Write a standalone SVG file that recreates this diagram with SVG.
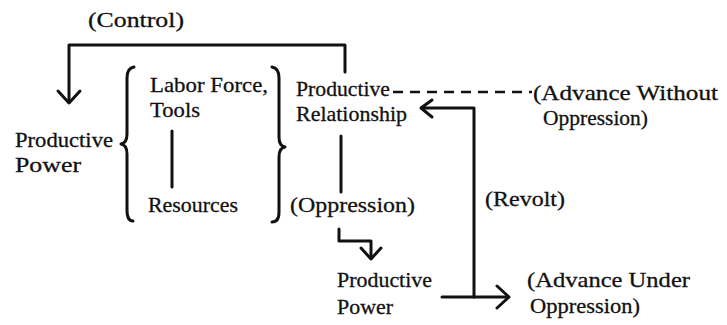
<svg xmlns="http://www.w3.org/2000/svg" width="727" height="325" viewBox="0 0 727 325">
  <style>
    .t { font-family: "Liberation Serif", "DejaVu Serif", serif; font-size: 22px; fill: #111; stroke: #111; stroke-width: 0.3; }
    .ln { fill: none; stroke: #111; stroke-width: 3; stroke-linecap: round; stroke-linejoin: round; }
    .dash { fill: none; stroke: #111; stroke-width: 2.5; stroke-dasharray: 10 7; }
  </style>
  <rect width="727" height="325" fill="#fff"/>

  <g id="connectors">
    <!-- Control -->
    <path class="ln" d="M345,72 V45 H69 V102"/>
    <path class="ln" d="M58,91 L69,103 L80,91"/>
    <!-- braces -->
    <path class="ln" d="M134,67 Q127,68 127,78 L127,134 Q127,143 121,144 Q127,145 127,154 L127,210 Q127,221 133,221"/>
    <path class="ln" d="M272,67 Q279,68 279,78 L279,137 Q279,146 285,147 Q279,148 279,157 L279,212 Q279,222 272,222"/>
    <!-- tools to resources -->
    <path class="ln" d="M172,131 V187"/>
    <!-- relationship down -->
    <path class="ln" d="M341,136 V192"/>
    <!-- dashed advance without oppression -->
    <path class="dash" d="M393,92 H532"/>
    <!-- revolt -->
    <path class="ln" d="M474,297 V108 H423"/>
    <path class="ln" d="M432,100 L421,108 L432,117"/>
    <!-- bottom arrow -->
    <path class="ln" d="M442,297 H508"/>
    <path class="ln" d="M497,286 L509,297 L497,308"/>
    <!-- oppression to productive power -->
    <path class="ln" d="M339,229 V241 H371 V258"/>
    <path class="ln" d="M361,248 L371,259 L381,248"/>
  </g>

  <g id="control"><text class="t" x="88" y="27" textLength="96" lengthAdjust="spacingAndGlyphs">(Control)</text></g>
  <g id="productive-power-left">
    <text class="t" x="15" y="147" textLength="98" lengthAdjust="spacingAndGlyphs">Productive</text>
    <text class="t" x="15" y="172" textLength="66" lengthAdjust="spacingAndGlyphs">Power</text>
  </g>
  <g id="labor-force">
    <text class="t" x="150" y="92" textLength="118" lengthAdjust="spacingAndGlyphs">Labor Force,</text>
    <text class="t" x="150" y="117" textLength="50" lengthAdjust="spacingAndGlyphs">Tools</text>
  </g>
  <g id="resources"><text class="t" x="148" y="212" textLength="90" lengthAdjust="spacingAndGlyphs">Resources</text></g>
  <g id="productive-relationship">
    <text class="t" x="296" y="96" textLength="94" lengthAdjust="spacingAndGlyphs">Productive</text>
    <text class="t" x="296" y="121" textLength="111" lengthAdjust="spacingAndGlyphs">Relationship</text>
  </g>
  <g id="advance-without">
    <text class="t" x="533" y="100" textLength="185" lengthAdjust="spacingAndGlyphs">(Advance Without</text>
    <text class="t" x="543" y="125" textLength="105" lengthAdjust="spacingAndGlyphs">Oppression)</text>
  </g>
  <g id="oppression"><text class="t" x="290" y="212" textLength="125" lengthAdjust="spacingAndGlyphs">(Oppression)</text></g>
  <g id="revolt"><text class="t" x="485" y="206" textLength="80" lengthAdjust="spacingAndGlyphs">(Revolt)</text></g>
  <g id="productive-power-lower">
    <text class="t" x="337" y="287" textLength="95" lengthAdjust="spacingAndGlyphs">Productive</text>
    <text class="t" x="337" y="314" textLength="56" lengthAdjust="spacingAndGlyphs">Power</text>
  </g>
  <g id="advance-under">
    <text class="t" x="527" y="287" textLength="163" lengthAdjust="spacingAndGlyphs">(Advance Under</text>
    <text class="t" x="530" y="313" textLength="110" lengthAdjust="spacingAndGlyphs">Oppression)</text>
  </g>
</svg>
